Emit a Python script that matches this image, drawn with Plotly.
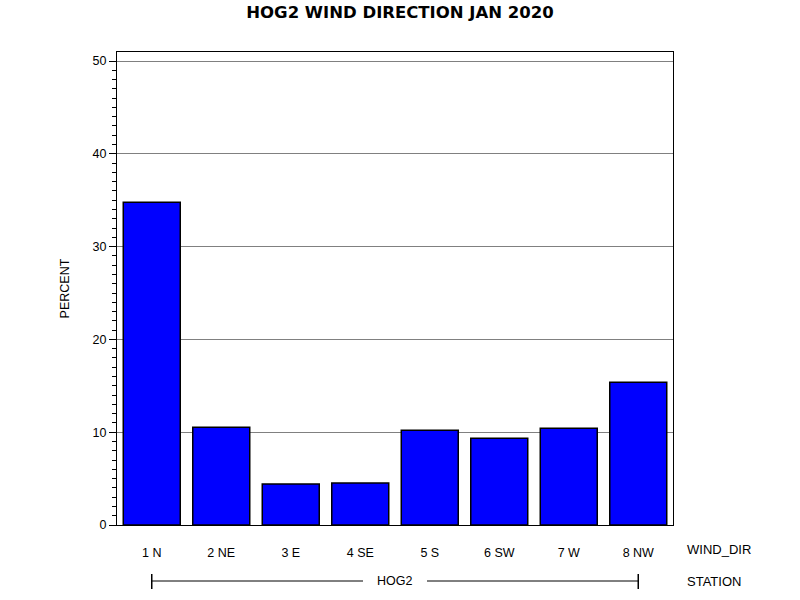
import plotly.graph_objects as go

categories = ["1 N", "2 NE", "3 E", "4 SE", "5 S", "6 SW", "7 W", "8 NW"]
percent = [34.77, 10.53, 4.41, 4.52, 10.21, 9.35, 10.43, 15.39]
station = "HOG2"
y_ticks = [0, 10, 20, 30, 40, 50]

FONT = "Liberation Sans, Arial, sans-serif"
TFONT = "DejaVu Sans, sans-serif"

fig = go.Figure()
fig.add_trace(go.Bar(
    x=list(range(len(categories))), y=percent,
    width=0.82,
    marker=dict(color="#0000FF", line=dict(color="black", width=1.5)),
    hoverinfo="y",
))

fig.update_layout(
    width=800, height=600,
    margin=dict(l=117, r=127, t=52, b=75),
    paper_bgcolor="white", plot_bgcolor="white",
    showlegend=False,
    font=dict(family=FONT, color="black", size=12),
    title=dict(text="<b>HOG2 WIND DIRECTION JAN 2020</b>", x=0.5, xanchor="center",
               y=1 - 12 / 600, yanchor="middle", font=dict(size=16.5, family=TFONT)),
    xaxis=dict(
        range=[-0.5, len(categories) - 0.5],
        tickmode="array", tickvals=list(range(len(categories))), ticktext=categories,
        ticks="", ticklabelstandoff=16,
        showgrid=False, zeroline=False,
        showline=True, linecolor="black", linewidth=1, mirror=True,
        tickfont=dict(size=12.5, family=FONT),
    ),
    yaxis=dict(
        range=[0, 50.97],
        tickmode="array", tickvals=y_ticks,
        ticks="outside", ticklen=7, tickwidth=1, tickcolor="black",
        minor=dict(dtick=1, ticks="outside", ticklen=4, tickwidth=1, tickcolor="black", showgrid=False),
        showgrid=True, gridcolor="#808080", gridwidth=1,
        zeroline=False,
        showline=True, linecolor="black", linewidth=1, mirror=True,
        tickfont=dict(size=12.5, family=FONT),
        title=dict(text="PERCENT", font=dict(size=12.5, family=FONT), standoff=20),
    ),
)

# axis variable labels on the right
fig.add_annotation(text="WIND_DIR", xref="paper", yref="paper", x=1, y=-24 / 473,
                   xanchor="left", yanchor="middle", xshift=12, showarrow=False,
                   font=dict(size=13, family=FONT))
fig.add_annotation(text="STATION", xref="paper", yref="paper", x=1, y=-56 / 473,
                   xanchor="left", yanchor="middle", xshift=12, showarrow=False,
                   font=dict(size=13, family=FONT))

# station group bracket
ybr = -56 / 473
fig.add_annotation(text=station, xref="x", yref="paper", x=(len(categories) - 1) / 2, y=ybr,
                   xanchor="center", yanchor="middle", xshift=-1, showarrow=False,
                   font=dict(size=12.5, family=FONT))
x0, x1 = 0, len(categories) - 1
mid = (x0 + x1) / 2
gap = 32 / 69.5
fig.add_shape(type="line", xref="x", yref="paper", x0=x0, x1=mid - gap, y0=ybr, y1=ybr,
              line=dict(color="black", width=1))
fig.add_shape(type="line", xref="x", yref="paper", x0=mid + gap, x1=x1, y0=ybr, y1=ybr,
              line=dict(color="black", width=1))
for xv in (x0, x1):
    fig.add_shape(type="line", xref="x", yref="paper", x0=xv, x1=xv,
                  y0=ybr - 8 / 473, y1=ybr + 7 / 473, line=dict(color="black", width=1.5))

fig.write_html("out.html", config={"displayModeBar": False},
               post_script="document.body.style.margin='0';document.body.style.padding='0';")
